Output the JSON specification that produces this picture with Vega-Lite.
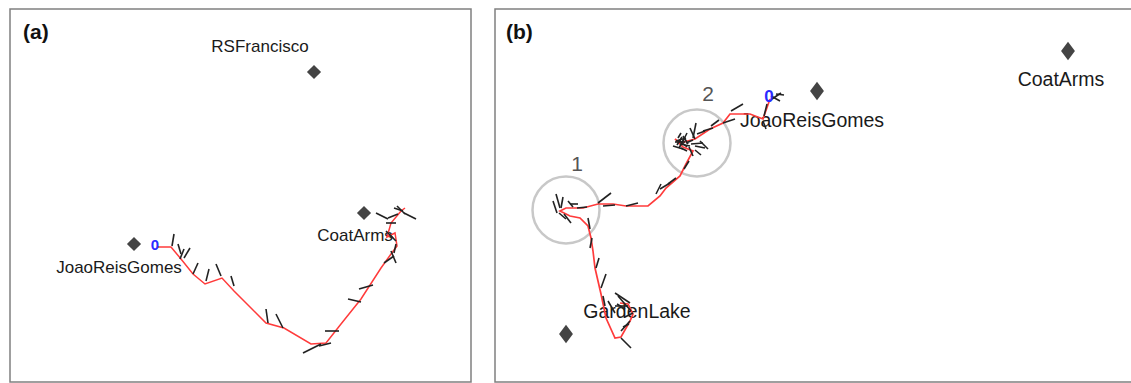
{
  "$schema": "https://vega.github.io/schema/vega-lite/v6.json",
  "padding": {"left": 9, "top": 8, "right": 0, "bottom": 2},
  "spacing": 22,
  "background": "white",
  "config": {
    "view": {"stroke": "#808080", "strokeWidth": 1.5},
    "font": "Liberation Sans"
  },
  "datasets": {
    "pathA": [
      {"i": 0, "x": 148, "y": 238}, {"i": 1, "x": 161, "y": 238}, {"i": 2, "x": 171, "y": 250},
      {"i": 3, "x": 183, "y": 265}, {"i": 4, "x": 195, "y": 275}, {"i": 5, "x": 212, "y": 269},
      {"i": 6, "x": 224, "y": 282}, {"i": 7, "x": 256, "y": 314}, {"i": 8, "x": 274, "y": 319},
      {"i": 9, "x": 301, "y": 335}, {"i": 10, "x": 316, "y": 334}, {"i": 11, "x": 331, "y": 315},
      {"i": 12, "x": 351, "y": 290}, {"i": 13, "x": 371, "y": 259}, {"i": 14, "x": 381, "y": 245},
      {"i": 15, "x": 387, "y": 237}, {"i": 16, "x": 385, "y": 224}, {"i": 17, "x": 377, "y": 228},
      {"i": 18, "x": 381, "y": 214}, {"i": 19, "x": 391, "y": 202}, {"i": 20, "x": 395, "y": 199}
    ],
    "ticksA": [
      {"x": 164, "y": 225, "x2": 162, "y2": 237}, {"x": 168, "y": 235, "x2": 171, "y2": 245},
      {"x": 174, "y": 240, "x2": 170, "y2": 250}, {"x": 180, "y": 239, "x2": 174, "y2": 249},
      {"x": 188, "y": 254, "x2": 183, "y2": 265}, {"x": 199, "y": 260, "x2": 196, "y2": 272},
      {"x": 206, "y": 255, "x2": 211, "y2": 267}, {"x": 221, "y": 267, "x2": 224, "y2": 277},
      {"x": 256, "y": 300, "x2": 258, "y2": 314}, {"x": 266, "y": 305, "x2": 273, "y2": 319},
      {"x": 293, "y": 344, "x2": 311, "y2": 335}, {"x": 309, "y": 337, "x2": 321, "y2": 334},
      {"x": 315, "y": 322, "x2": 329, "y2": 322}, {"x": 338, "y": 290, "x2": 351, "y2": 293},
      {"x": 349, "y": 280, "x2": 363, "y2": 276}, {"x": 374, "y": 254, "x2": 384, "y2": 247},
      {"x": 381, "y": 242, "x2": 386, "y2": 254}, {"x": 366, "y": 204, "x2": 378, "y2": 210},
      {"x": 378, "y": 209, "x2": 388, "y2": 205}, {"x": 384, "y": 199, "x2": 393, "y2": 202},
      {"x": 394, "y": 204, "x2": 406, "y2": 210}, {"x": 376, "y": 222, "x2": 383, "y2": 229},
      {"x": 386, "y": 235, "x2": 384, "y2": 244}, {"x": 376, "y": 214, "x2": 386, "y2": 214},
      {"x": 387, "y": 197, "x2": 395, "y2": 205}, {"x": 380, "y": 226, "x2": 386, "y2": 232}
    ],
    "landA": [
      {"name": "RSFrancisco", "x": 304, "y": 63},
      {"name": "CoatArms", "x": 354, "y": 204},
      {"name": "JoaoReisGomes", "x": 124, "y": 235}
    ],
    "textA": [
      {"kind": "tag", "t": "(a)", "x": 13, "y": 30},
      {"kind": "label", "t": "RSFrancisco", "x": 250, "y": 43},
      {"kind": "label", "t": "CoatArms", "x": 345, "y": 232},
      {"kind": "label", "t": "JoaoReisGomes", "x": 109, "y": 264},
      {"kind": "start", "t": "0", "x": 145, "y": 241}
    ],
    "pathB": [
      {"i": 0, "x": 275, "y": 90}, {"i": 1, "x": 268, "y": 110}, {"i": 2, "x": 255, "y": 105},
      {"i": 3, "x": 235, "y": 105}, {"i": 4, "x": 228, "y": 114}, {"i": 5, "x": 215, "y": 120},
      {"i": 6, "x": 200, "y": 130}, {"i": 7, "x": 185, "y": 134}, {"i": 8, "x": 180, "y": 130},
      {"i": 9, "x": 188, "y": 138}, {"i": 10, "x": 198, "y": 142}, {"i": 11, "x": 191, "y": 155},
      {"i": 12, "x": 185, "y": 167}, {"i": 13, "x": 171, "y": 179}, {"i": 14, "x": 165, "y": 187},
      {"i": 15, "x": 153, "y": 197}, {"i": 16, "x": 131, "y": 197}, {"i": 17, "x": 118, "y": 195},
      {"i": 18, "x": 103, "y": 195}, {"i": 19, "x": 88, "y": 199}, {"i": 20, "x": 71, "y": 199},
      {"i": 21, "x": 65, "y": 202}, {"i": 22, "x": 75, "y": 207}, {"i": 23, "x": 85, "y": 209},
      {"i": 24, "x": 93, "y": 217}, {"i": 25, "x": 96, "y": 229}, {"i": 26, "x": 98, "y": 242},
      {"i": 27, "x": 100, "y": 259}, {"i": 28, "x": 106, "y": 285}, {"i": 29, "x": 111, "y": 309},
      {"i": 30, "x": 120, "y": 329}, {"i": 31, "x": 126, "y": 328}, {"i": 32, "x": 135, "y": 312},
      {"i": 33, "x": 138, "y": 305}, {"i": 34, "x": 133, "y": 295}, {"i": 35, "x": 125, "y": 294}
    ],
    "ticksB": [
      {"x": 276, "y": 87, "x2": 285, "y2": 92}, {"x": 277, "y": 90, "x2": 286, "y2": 84},
      {"x": 281, "y": 85, "x2": 289, "y2": 86}, {"x": 268, "y": 112, "x2": 271, "y2": 120},
      {"x": 272, "y": 95, "x2": 269, "y2": 107},
      {"x": 236, "y": 102, "x2": 248, "y2": 95}, {"x": 228, "y": 114, "x2": 240, "y2": 110},
      {"x": 208, "y": 122, "x2": 218, "y2": 119}, {"x": 216, "y": 117, "x2": 224, "y2": 111},
      {"x": 181, "y": 132, "x2": 191, "y2": 129}, {"x": 188, "y": 127, "x2": 193, "y2": 135},
      {"x": 195, "y": 119, "x2": 200, "y2": 130}, {"x": 201, "y": 114, "x2": 198, "y2": 129},
      {"x": 205, "y": 132, "x2": 213, "y2": 140}, {"x": 200, "y": 137, "x2": 210, "y2": 139},
      {"x": 185, "y": 135, "x2": 195, "y2": 137}, {"x": 183, "y": 129, "x2": 186, "y2": 124},
      {"x": 192, "y": 124, "x2": 188, "y2": 132}, {"x": 196, "y": 135, "x2": 208, "y2": 134},
      {"x": 178, "y": 137, "x2": 188, "y2": 140}, {"x": 194, "y": 138, "x2": 198, "y2": 147},
      {"x": 202, "y": 125, "x2": 210, "y2": 122}, {"x": 186, "y": 139, "x2": 192, "y2": 142},
      {"x": 180, "y": 133, "x2": 190, "y2": 133}, {"x": 184, "y": 131, "x2": 192, "y2": 138},
      {"x": 189, "y": 130, "x2": 184, "y2": 139}, {"x": 191, "y": 134, "x2": 198, "y2": 131},
      {"x": 182, "y": 136, "x2": 187, "y2": 128}, {"x": 200, "y": 141, "x2": 206, "y2": 146},
      {"x": 194, "y": 152, "x2": 189, "y2": 160}, {"x": 181, "y": 169, "x2": 173, "y2": 175},
      {"x": 175, "y": 174, "x2": 165, "y2": 180}, {"x": 166, "y": 175, "x2": 161, "y2": 185},
      {"x": 143, "y": 194, "x2": 131, "y2": 197}, {"x": 116, "y": 184, "x2": 103, "y2": 194},
      {"x": 108, "y": 197, "x2": 120, "y2": 196},
      {"x": 61, "y": 185, "x2": 65, "y2": 199}, {"x": 68, "y": 188, "x2": 66, "y2": 199},
      {"x": 73, "y": 192, "x2": 78, "y2": 198}, {"x": 75, "y": 195, "x2": 83, "y2": 195},
      {"x": 64, "y": 204, "x2": 71, "y2": 210}, {"x": 69, "y": 205, "x2": 76, "y2": 214},
      {"x": 82, "y": 199, "x2": 92, "y2": 198}, {"x": 58, "y": 192, "x2": 62, "y2": 204},
      {"x": 93, "y": 209, "x2": 95, "y2": 220}, {"x": 97, "y": 229, "x2": 95, "y2": 239},
      {"x": 104, "y": 249, "x2": 101, "y2": 259}, {"x": 111, "y": 265, "x2": 106, "y2": 279},
      {"x": 108, "y": 287, "x2": 110, "y2": 297},
      {"x": 120, "y": 284, "x2": 135, "y2": 294}, {"x": 123, "y": 287, "x2": 136, "y2": 302},
      {"x": 120, "y": 297, "x2": 133, "y2": 297}, {"x": 126, "y": 322, "x2": 135, "y2": 312},
      {"x": 126, "y": 329, "x2": 136, "y2": 339}, {"x": 130, "y": 308, "x2": 138, "y2": 304},
      {"x": 113, "y": 292, "x2": 120, "y2": 304}, {"x": 122, "y": 295, "x2": 130, "y2": 300},
      {"x": 128, "y": 318, "x2": 134, "y2": 315}
    ],
    "landB": [
      {"name": "CoatArms", "x": 573, "y": 42},
      {"name": "JoaoReisGomes", "x": 322, "y": 82},
      {"name": "GardenLake", "x": 71, "y": 325}
    ],
    "circB": [
      {"zone": "1", "x": 71, "y": 201},
      {"zone": "2", "x": 202, "y": 134}
    ],
    "textB": [
      {"kind": "tag", "t": "(b)", "x": 11, "y": 30},
      {"kind": "label", "t": "CoatArms", "x": 566, "y": 77},
      {"kind": "label", "t": "JoaoReisGomes", "x": 317, "y": 118},
      {"kind": "label", "t": "GardenLake", "x": 142, "y": 309},
      {"kind": "zone", "t": "1", "x": 82, "y": 162},
      {"kind": "zone", "t": "2", "x": 213, "y": 92},
      {"kind": "start", "t": "0", "x": 274, "y": 93}
    ]
  },
  "hconcat": [
    {
      "width": 461,
      "height": 373,
      "encoding": {
        "x": {"field": "x", "type": "quantitative", "scale": {"domain": [0, 461], "nice": false, "zero": false}, "axis": null},
        "y": {"field": "y", "type": "quantitative", "scale": {"domain": [0, 373], "nice": false, "zero": false, "reverse": true}, "axis": null}
      },
      "layer": [
        {
          "data": {"name": "landA"},
          "mark": {"type": "point", "shape": "diamond", "filled": true, "color": "#444444", "opacity": 1, "size": 200}
        },
        {
          "data": {"name": "textA"},
          "transform": [{"filter": "datum.kind === 'label'"}],
          "mark": {"type": "text", "fontSize": 17, "color": "#1a1a1a", "align": "center", "baseline": "alphabetic"},
          "encoding": {"text": {"field": "t"}}
        },
        {
          "data": {"name": "pathA"},
          "mark": {"type": "line", "color": "#ff3b3b", "strokeWidth": 1.5},
          "encoding": {"order": {"field": "i", "type": "quantitative"}}
        },
        {
          "data": {"name": "ticksA"},
          "mark": {"type": "rule", "color": "#222222", "strokeWidth": 1.6},
          "encoding": {"x2": {"field": "x2"}, "y2": {"field": "y2"}}
        },
        {
          "data": {"name": "textA"},
          "transform": [{"filter": "datum.kind === 'tag'"}],
          "mark": {"type": "text", "fontSize": 21, "fontWeight": "bold", "color": "#111111", "align": "left", "baseline": "alphabetic"},
          "encoding": {"text": {"field": "t"}}
        },
        {
          "data": {"name": "textA"},
          "transform": [{"filter": "datum.kind === 'start'"}],
          "mark": {"type": "text", "fontSize": 15, "fontWeight": "bold", "color": "#2a2aff", "align": "center", "baseline": "alphabetic"},
          "encoding": {"text": {"field": "t"}}
        }
      ]
    },
    {
      "width": 639,
      "height": 373,
      "encoding": {
        "x": {"field": "x", "type": "quantitative", "scale": {"domain": [0, 639], "nice": false, "zero": false}, "axis": null},
        "y": {"field": "y", "type": "quantitative", "scale": {"domain": [0, 373], "nice": false, "zero": false, "reverse": true}, "axis": null}
      },
      "layer": [
        {
          "data": {"name": "circB"},
          "mark": {"type": "point", "shape": "circle", "filled": false, "color": "#c8c8c8", "opacity": 1, "strokeWidth": 2.5, "size": 4489}
        },
        {
          "data": {"name": "landB"},
          "mark": {"type": "point", "shape": "M0,-1L0.75,0L0,1L-0.75,0Z", "filled": true, "color": "#444444", "opacity": 1, "size": 340}
        },
        {
          "data": {"name": "textB"},
          "transform": [{"filter": "datum.kind === 'label'"}],
          "mark": {"type": "text", "fontSize": 19.5, "color": "#1a1a1a", "align": "center", "baseline": "alphabetic"},
          "encoding": {"text": {"field": "t"}}
        },
        {
          "data": {"name": "textB"},
          "transform": [{"filter": "datum.kind === 'zone'"}],
          "mark": {"type": "text", "fontSize": 21, "color": "#555555", "align": "center", "baseline": "alphabetic"},
          "encoding": {"text": {"field": "t"}}
        },
        {
          "data": {"name": "pathB"},
          "mark": {"type": "line", "color": "#ff3b3b", "strokeWidth": 1.7},
          "encoding": {"order": {"field": "i", "type": "quantitative"}}
        },
        {
          "data": {"name": "ticksB"},
          "mark": {"type": "rule", "color": "#222222", "strokeWidth": 1.6},
          "encoding": {"x2": {"field": "x2"}, "y2": {"field": "y2"}}
        },
        {
          "data": {"name": "textB"},
          "transform": [{"filter": "datum.kind === 'tag'"}],
          "mark": {"type": "text", "fontSize": 21, "fontWeight": "bold", "color": "#111111", "align": "left", "baseline": "alphabetic"},
          "encoding": {"text": {"field": "t"}}
        },
        {
          "data": {"name": "textB"},
          "transform": [{"filter": "datum.kind === 'start'"}],
          "mark": {"type": "text", "fontSize": 17, "fontWeight": "bold", "color": "#2a2aff", "align": "center", "baseline": "alphabetic"},
          "encoding": {"text": {"field": "t"}}
        }
      ]
    }
  ]
}
